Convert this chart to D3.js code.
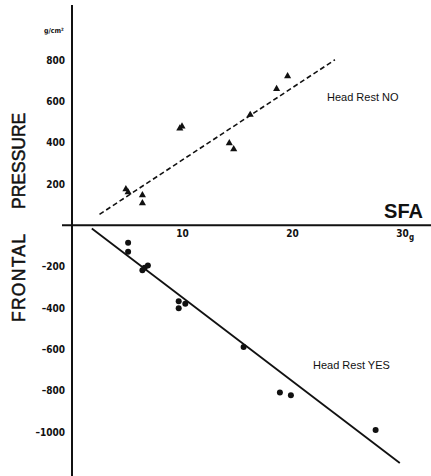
<!DOCTYPE html>
<html>
<head>
<meta charset="utf-8">
<script src="https://cdn.jsdelivr.net/npm/d3@7"></script>
<style>
body{margin:0;background:#fff;}
text{fill:#111;}
</style>
</head>
<body>
<svg id="chart" width="431" height="476"></svg>
<script>
// SFA (g) vs frontal pressure (g/cm2)
var noSfa = [4.9, 5.1, 6.4, 6.4, 9.8, 10.0, 14.3, 14.7, 16.2, 18.6, 19.6];
var noPressure = [175, 160, 146, 107, 469, 479, 398, 369, 535, 660, 722];
var yesSfa = [5.1, 5.1, 6.4, 6.6, 6.9, 9.7, 9.7, 10.3, 15.6, 18.9, 19.9, 27.6];
var yesPressure = [-84, -128, -217, -205, -194, -367, -401, -379, -589, -809, -822, -990];
var noFit = [[2.5, 53], [23.9, 801]];
var yesFit = [[1.8, -15], [29.8, -1150]];
var xTicks = [10, 20, 30];
var yTicks = [800, 600, 400, 200, -200, -400, -600, -800, -1000];

var svg = d3.select('#chart');
var x = d3.scaleLinear().domain([0, 30]).range([72, 402]);
var y = d3.scaleLinear().domain([-1000, 800]).range([432, 60]);
var tickFont = "'Liberation Sans Narrow','DejaVu Sans Condensed',Arial,sans-serif";

// axis lines
svg.append('line').attr('x1', x(0)).attr('x2', x(0)).attr('y1', 5).attr('y2', 476)
    .attr('stroke', '#111').attr('stroke-width', 2);
svg.append('line').attr('x1', 62).attr('x2', 431).attr('y1', y(0)).attr('y2', y(0))
    .attr('stroke', '#111').attr('stroke-width', 2);

// y tick labels
var yAxis = svg.append('g').attr('transform', 'translate(' + (x(0) - 4) + ',0)')
    .call(d3.axisLeft(y).tickValues(yTicks).tickSize(0).tickFormat(function(d){ return d < 0 ? '\u2013' + (-d) : d; }));
yAxis.select('.domain').remove();
yAxis.selectAll('text').attr('font-family', tickFont).attr('font-weight', 'bold').attr('font-size', 10).attr('fill', '#111');

// x tick labels
var xAxis = svg.append('g').attr('transform', 'translate(0,' + (y(0) + 2) + ')')
    .call(d3.axisBottom(x).tickValues(xTicks).tickSize(0));
xAxis.select('.domain').remove();
xAxis.selectAll('text').attr('font-family', tickFont).attr('font-weight', 'bold').attr('font-size', 10).attr('fill', '#111');
svg.append('text').attr('x', x(30) + 7).attr('y', y(0) + 15).text('g')
    .attr('font-family', tickFont).attr('font-weight', 'bold').attr('font-size', 8);

// unit
svg.append('text').attr('x', 44).attr('y', 33).text('g/cm\u00b2')
    .attr('font-family', tickFont).attr('font-weight', 'bold').attr('font-size', 7);

// axis titles
svg.append('text').attr('x', 423).attr('y', 218).attr('text-anchor', 'end').text('SFA')
    .attr('font-family', 'Liberation Sans,Arial,sans-serif').attr('font-weight', 'bold').attr('font-size', 20);
svg.append('text').attr('transform', 'translate(25,209) rotate(-90)').text('PRESSURE')
    .attr('font-family', 'Liberation Sans,Arial,sans-serif').attr('font-size', 17.5)
    .attr('stroke', '#111').attr('stroke-width', 0.5);
svg.append('text').attr('transform', 'translate(25,322) rotate(-90)').text('FRONTAL')
    .attr('font-family', 'Liberation Sans,Arial,sans-serif').attr('font-size', 17.5).attr('textLength', 88)
    .attr('stroke', '#111').attr('stroke-width', 0.5);

// fit lines
var line = d3.line().x(function(d){ return x(d[0]); }).y(function(d){ return y(d[1]); });
svg.append('path').attr('d', line(noFit)).attr('fill', 'none').attr('stroke', '#111')
    .attr('stroke-width', 1.6).attr('stroke-dasharray', '5 3');
svg.append('path').attr('d', line(yesFit)).attr('fill', 'none').attr('stroke', '#111')
    .attr('stroke-width', 1.8);

// markers
var tri = d3.symbol().type(d3.symbolTriangle).size(22);
svg.append('g').selectAll('path').data(noSfa).enter().append('path')
    .attr('d', tri)
    .attr('transform', function(d, i){ return 'translate(' + x(d) + ',' + y(noPressure[i]) + ')'; })
    .attr('fill', '#111');
svg.append('g').selectAll('circle').data(yesSfa).enter().append('circle')
    .attr('cx', function(d){ return x(d); })
    .attr('cy', function(d, i){ return y(yesPressure[i]); })
    .attr('r', 3).attr('fill', '#111');

// labels
svg.append('text').attr('x', 327).attr('y', 101).text('Head Rest NO')
    .attr('font-family', 'Liberation Sans,Arial,sans-serif').attr('font-size', 11);
svg.append('text').attr('x', 313).attr('y', 369).text('Head Rest YES')
    .attr('font-family', 'Liberation Sans,Arial,sans-serif').attr('font-size', 11);
</script>
</body>
</html>
